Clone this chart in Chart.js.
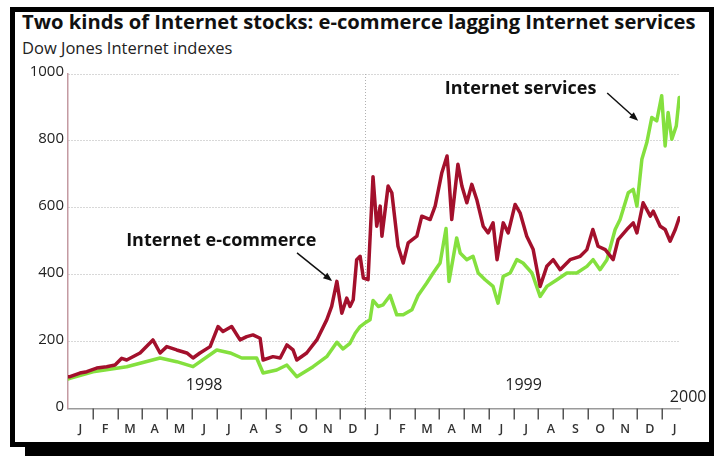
<!DOCTYPE html>
<html>
<head>
<meta charset="utf-8">
<script src="https://cdn.jsdelivr.net/npm/chart.js@4"></script>
<style>
html,body{margin:0;padding:0;background:#fff;}
body{width:714px;height:456px;position:relative;overflow:hidden;font-family:"Open Sans",Lato,sans-serif;}
#frame{position:absolute;left:10px;top:7px;width:704px;height:440px;box-sizing:border-box;border:5px solid #000;box-shadow:15px 9px 0 #000;background:#fff;}
#title{position:absolute;left:22px;top:7px;font-weight:bold;font-size:20.2px;color:#111;white-space:nowrap;}
#sub{position:absolute;left:22px;top:36px;font-size:16.5px;color:#222;white-space:nowrap;}
#c{position:absolute;left:0;top:0;}
</style>
</head>
<body>
<div id="frame"></div>
<div id="title">Two kinds of Internet stocks: e-commerce lagging Internet services</div>
<div id="sub">Dow Jones Internet indexes</div>
<canvas id="c" width="714" height="456"></canvas>
<script>
// months since 1 Jan 1998
const ecomMonths = [0,0.08,0.48,0.76,1.16,1.56,1.90,2.17,2.37,2.91,3.43,3.72,3.99,4.39,4.80,5.05,5.33,5.74,6.06,6.26,
  6.61,6.95,7.22,7.47,7.76,7.88,8.28,8.57,8.84,9.09,9.24,9.64,10.05,10.45,10.65,10.86,11.06,11.26,11.39,11.52,
  11.66,11.80,11.93,12.12,12.32,12.47,12.61,12.68,12.93,13.08,13.33,13.54,13.74,14.09,14.29,14.63,14.83,15.10,15.31,15.39,
  15.50,15.75,15.91,16.11,16.31,16.51,16.77,16.97,17.17,17.33,17.58,17.78,18.06,18.26,18.53,18.79,19.07,19.34,19.60,19.88,
  20.28,20.69,20.96,21.20,21.41,21.70,22.02,22.22,22.57,22.83,22.98,23.23,23.52,23.64,23.92,24.12,24.32,24.53,24.69];
const ecomValues = [95,95,106,110,121,125,130,150,145,166,205,166,185,175,166,151,166,185,245,230,
  245,205,215,220,210,145,155,151,190,175,145,166,205,265,305,380,285,330,305,325,
  445,455,390,385,693,545,605,515,665,645,485,435,495,515,575,565,605,705,755,685,
  565,730,665,615,670,625,545,525,555,445,555,525,610,585,515,475,365,425,445,415,
  445,455,475,535,485,475,445,505,535,555,525,615,575,590,545,535,500,535,570];

const servMonths = [0,0.08,1.01,2.37,3.72,4.39,5.05,6.01,6.55,7.02,7.62,7.88,8.43,8.84,9.24,9.90,10.45,10.86,11.11,11.39,
  11.60,11.80,12.04,12.20,12.32,12.53,12.73,13.01,13.28,13.54,13.89,14.14,14.49,14.75,15.03,15.27,15.39,15.70,15.84,16.11,
  16.36,16.57,16.85,17.17,17.37,17.58,17.86,18.13,18.38,18.74,19.07,19.34,19.75,20.15,20.55,20.96,21.21,21.49,21.77,22.10,
  22.30,22.63,22.83,22.98,23.18,23.38,23.58,23.78,23.98,24.12,24.24,24.39,24.57,24.69];
const servValues = [88,90,110,125,151,140,125,175,166,151,151,106,115,130,95,125,155,198,178,195,
  225,245,258,265,323,305,310,338,280,280,295,338,375,405,435,538,380,510,465,445,
  455,405,385,365,315,395,405,445,435,405,335,365,385,405,405,425,445,415,445,535,
  565,645,655,605,745,795,870,860,935,785,885,805,845,930];

const monthLetters = ['J','F','M','A','M','J','J','A','S','O','N','D'];
const yearLabels = ['1998','1999','2000'];
const yTicks = [0,200,400,600,800,1000];

const toPoints = (xs, ys) => xs.map((m,i)=>({x:m, y:ys[i]}));

function arrow(ctx, x1, y1, x2, y2){
  const a = Math.atan2(y2-y1, x2-x1), h = 9, w = 3.5;
  ctx.beginPath();
  ctx.moveTo(x1,y1);
  ctx.lineTo(x2-Math.cos(a)*h*0.8, y2-Math.sin(a)*h*0.8);
  ctx.stroke();
  ctx.beginPath();
  ctx.moveTo(x2,y2);
  ctx.lineTo(x2-Math.cos(a)*h+Math.sin(a)*w, y2-Math.sin(a)*h-Math.cos(a)*w);
  ctx.lineTo(x2-Math.cos(a)*h-Math.sin(a)*w, y2-Math.sin(a)*h+Math.cos(a)*w);
  ctx.closePath();
  ctx.fill();
}

// axis labels, month ticks and the two callouts
const overlay = {
  id:'overlay',
  afterDraw(chart){
    const {ctx, chartArea:a} = chart;
    const x = chart.scales.x, y = chart.scales.y;
    ctx.save();

    ctx.fillStyle = '#222';
    ctx.font = '15px "Open Sans"';
    ctx.textAlign = 'right';
    ctx.textBaseline = 'middle';
    yTicks.forEach(v => ctx.fillText(String(v), a.left-4, y.getPixelForValue(v)-2));

    ctx.strokeStyle = '#555';
    ctx.lineWidth = 1.5;
    for(let m=1; m<=24; m++){
      const px = Math.round(x.getPixelForValue(m))+0.25;
      ctx.beginPath();
      ctx.moveTo(px, a.bottom);
      ctx.lineTo(px, a.bottom+11);
      ctx.stroke();
    }

    ctx.fillStyle = '#333';
    ctx.font = '600 12.5px "Open Sans"';
    ctx.textAlign = 'center';
    for(let m=0; m<25; m++){
      ctx.fillText(monthLetters[m%12], x.getPixelForValue(m+0.5), a.bottom+21);
    }

    ctx.fillStyle = '#222';
    ctx.font = '16px "Open Sans"';
    ctx.fillText(yearLabels[0], x.getPixelForValue(5.5), y.getPixelForValue(70));
    ctx.fillText(yearLabels[1], x.getPixelForValue(18.4), y.getPixelForValue(70));
    ctx.fillText(yearLabels[2], x.getPixelForValue(25.05), y.getPixelForValue(34));

    ctx.fillStyle = '#111';
    ctx.font = 'bold 18px "Open Sans"';
    ctx.fillText('Internet e-commerce', x.getPixelForValue(6.19), y.getPixelForValue(502));
    ctx.fillText('Internet services', x.getPixelForValue(18.28), y.getPixelForValue(955));

    ctx.strokeStyle = '#111';
    ctx.lineWidth = 1.5;
    arrow(ctx, x.getPixelForValue(9.25), y.getPixelForValue(465), x.getPixelForValue(10.67), y.getPixelForValue(381));
    arrow(ctx, x.getPixelForValue(21.78), y.getPixelForValue(943), x.getPixelForValue(23.03), y.getPixelForValue(860));
    ctx.restore();
  }
};

new Chart(document.getElementById('c'), {
  type:'line',
  data:{
    datasets:[
      {label:'Internet e-commerce', data:toPoints(ecomMonths, ecomValues), borderColor:'#a3102c'},
      {label:'Internet services', data:toPoints(servMonths, servValues), borderColor:'#84e03e'}
    ]
  },
  options:{
    responsive:false,
    animation:false,
    devicePixelRatio:1,
    layout:{padding:{left:68, top:74, right:34, bottom:47.5}},
    elements:{
      line:{borderWidth:3.5, tension:0, borderJoinStyle:'round', borderCapStyle:'round', fill:false},
      point:{radius:0}
    },
    plugins:{legend:{display:false}, tooltip:{enabled:false}},
    scales:{
      x:{
        type:'linear', min:0, max:24.72,
        ticks:{display:false, stepSize:12},
        grid:{drawTicks:false, lineWidth:1, color:c => (c.tick && (c.tick.value===12 || c.tick.value===24)) ? '#b0b0b0' : 'transparent'},
        border:{color:'#9a9a9a', width:1.5, dash:[1,2]}
      },
      y:{
        min:0, max:1000,
        ticks:{display:false, stepSize:200},
        grid:{drawTicks:false, lineWidth:1, color:c => (c.tick && c.tick.value>0) ? '#b0b0b0' : 'transparent'},
        border:{color:'#c49aa2', width:1.5, dash:[1,2]}
      }
    }
  },
  plugins:[overlay]
});
</script>
</body>
</html>
